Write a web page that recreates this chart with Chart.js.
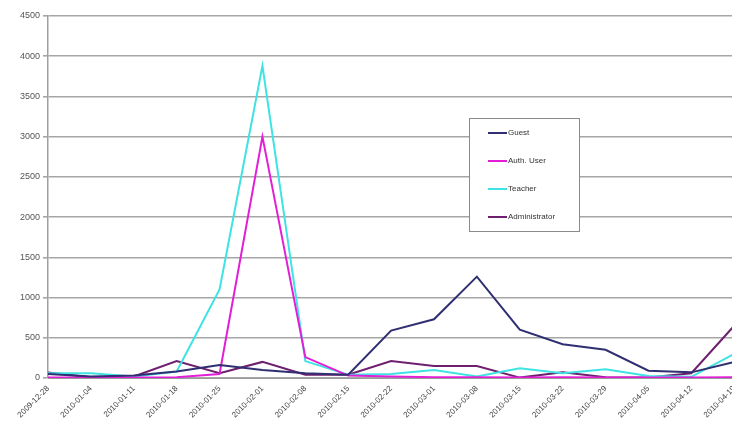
<!DOCTYPE html>
<html lang="en">
<head>
    <meta charset="UTF-8">
    <title>Users per week</title>
    <script src="https://cdn.jsdelivr.net/npm/chart.js"></script>
    <style>
        html, body { margin: 0; padding: 0; background: #ffffff; overflow: hidden; }
        /* slightly wider than the window: the original picture is cut off at the right */
        #wrap { width: 743px; height: 427px; position: relative; }
    </style>
</head>
<body>
    <div id="wrap"><canvas id="lineChart"></canvas></div>

    <script>
        // ** Data **
        let weeks = ["2009-12-28", "2010-01-04", "2010-01-11", "2010-01-18", "2010-01-25", "2010-02-01",
                     "2010-02-08", "2010-02-15", "2010-02-22", "2010-03-01", "2010-03-08", "2010-03-15",
                     "2010-03-22", "2010-03-29", "2010-04-05", "2010-04-12", "2010-04-19"];
        let guest    = [50, 20, 30, 80, 160, 100, 60, 40, 590, 730, 1260, 600, 420, 350, 90, 70, 200];
        let authUser = [5, 5, 5, 10, 50, 3000, 260, 30, 20, 10, 10, 5, 10, 5, 5, 5, 10];
        let teacher  = [60, 60, 20, 80, 1100, 3880, 210, 40, 50, 100, 20, 120, 60, 110, 25, 15, 300];
        let admin    = [70, 10, 20, 210, 60, 200, 40, 40, 210, 150, 150, 5, 70, 10, 5, 60, 650];
        let seriesNames = ["Guest", "Auth. User", "Teacher", "Administrator"];
        let colors = ["#2f2f72", "#e21fd6", "#3fe3e3", "#6e1f6e"];
        let yTicks = [0, 500, 1000, 1500, 2000, 2500, 3000, 3500, 4000, 4500];

        // legend box drawn inside the plot, like the original
        const boxLegend = {
            id: "boxLegend",
            afterDraw(chart) {
                const ctx = chart.ctx;
                const x = 469, y = 118, w = 110, h = 113;
                ctx.save();
                ctx.fillStyle = "#ffffff";
                ctx.fillRect(x, y, w, h);
                ctx.strokeStyle = "#8a8a8a";
                ctx.lineWidth = 1;
                ctx.strokeRect(x + 0.5, y + 0.5, w, h);
                ctx.font = "8px 'Liberation Sans', Arial, sans-serif";
                ctx.textBaseline = "middle";
                chart.data.datasets.forEach((ds, i) => {
                    const ry = y + 15 + i * 28;
                    ctx.strokeStyle = ds.borderColor;
                    ctx.lineWidth = 2;
                    ctx.beginPath();
                    ctx.moveTo(x + 19, ry);
                    ctx.lineTo(x + 38, ry);
                    ctx.stroke();
                    ctx.fillStyle = "#333333";
                    ctx.fillText(ds.label, x + 39, ry);
                });
                ctx.restore();
            }
        };

        let allSeries = [guest, authUser, teacher, admin];

        let lineCtx = document.getElementById("lineChart").getContext("2d");
        new Chart(lineCtx, {
            type: "line",
            data: {
                labels: weeks,
                datasets: seriesNames.map((name, index) => ({
                    label: name,
                    data: allSeries[index],
                    borderColor: colors[index],
                    borderWidth: 2,
                    pointRadius: 0,
                    tension: 0,
                    fill: false
                }))
            },
            options: {
                responsive: true,
                maintainAspectRatio: false,
                animation: false,
                layout: { padding: { top: 16, right: 0, left: 0, bottom: 0 } },
                plugins: {
                    legend: { display: false },
                    tooltip: { enabled: false }
                },
                scales: {
                    x: {
                        offset: false,
                        grid: { display: false, drawTicks: true, tickLength: 4, color: "#999999" },
                        border: { color: "#9a9a9a", width: 1 },
                        ticks: {
                            minRotation: 45,
                            maxRotation: 45,
                            autoSkip: false,
                            color: "#444444",
                            padding: 2,
                            font: { family: "'Liberation Sans', Arial, sans-serif", size: 8 }
                        },
                        afterFit: (scale) => { scale.height = 49; }
                    },
                    y: {
                        min: 0,
                        max: 4500,
                        afterBuildTicks: (scale) => { scale.ticks = yTicks.map(v => ({ value: v })); },
                        grid: { color: "#a6a6a6", lineWidth: 1.6, tickLength: 5 },
                        border: { color: "#a0a0a0", width: 1.5 },
                        ticks: {
                            color: "#555555",
                            padding: 3,
                            font: { family: "'Liberation Sans', Arial, sans-serif", size: 9 },
                            callback: (value) => String(value)
                        },
                        afterFit: (scale) => { scale.width = 48; }
                    }
                }
            },
            plugins: [boxLegend]
        });
    </script>
</body>
</html>
